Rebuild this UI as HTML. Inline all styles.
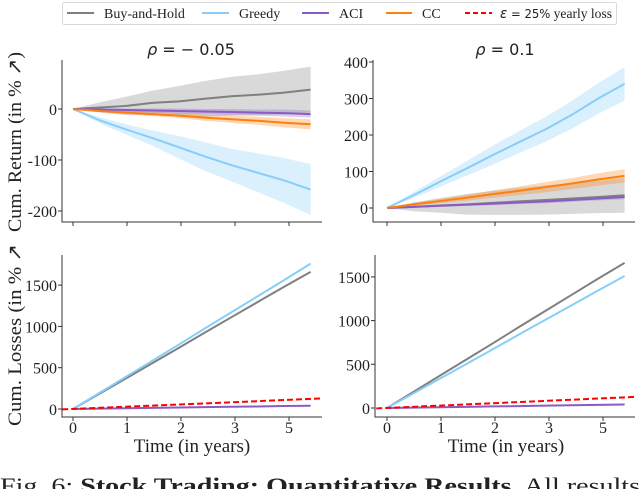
<!DOCTYPE html>
<html><head><meta charset="utf-8"><style>
body{margin:0;background:#fff;width:640px;height:489px;overflow:hidden}
svg{display:block}
text{font-family:"Liberation Serif",serif;fill:#222}
.s{font-family:"DejaVu Sans",sans-serif}
</style></head><body>
<svg id="c" width="640" height="489" xmlns="http://www.w3.org/2000/svg">
<g>
<rect x="62.5" y="2.5" width="554" height="22" rx="2" fill="#fff" stroke="#d8d8d8"/>
<g><line x1="67" y1="13" x2="94" y2="13" stroke="#808080" stroke-width="2"/><text x="104" y="18" font-size="14">Buy-and-Hold</text></g>
<g><line x1="202" y1="13" x2="229" y2="13" stroke="#87cefa" stroke-width="2"/><text x="239" y="18" font-size="14">Greedy</text></g>
<g><line x1="302" y1="13" x2="329" y2="13" stroke="#8a5cc2" stroke-width="2"/><text x="339" y="18" font-size="14">ACI</text></g>
<g><line x1="386" y1="13" x2="412" y2="13" stroke="#ff7f0e" stroke-width="2"/><text x="422" y="18" font-size="14">CC</text></g>
<g><line x1="465" y1="13" x2="492" y2="13" stroke="#ff0000" stroke-width="2" stroke-dasharray="5,3"/><text x="500" y="18" font-size="14" textLength="112" lengthAdjust="spacingAndGlyphs"><tspan class="s" font-style="italic">ε</tspan><tspan class="s" font-size="12"> = 25%</tspan> yearly loss</text></g>
</g>
<text class="s" x="191" y="55" font-size="16" text-anchor="middle"><tspan font-style="italic">ρ</tspan> = − 0.05</text>
<text class="s" x="505" y="55" font-size="16" text-anchor="middle"><tspan font-style="italic">ρ</tspan> = 0.1</text>
<text x="21" y="142" font-size="19" text-anchor="middle" textLength="180" lengthAdjust="spacingAndGlyphs" transform="rotate(-90 21 142)">Cum. Return (in %  ↗)</text>
<text x="21" y="335" font-size="19" text-anchor="middle" textLength="182" lengthAdjust="spacingAndGlyphs" transform="rotate(-90 21 335)">Cum. Losses (in %  ↗</text>
<text x="192" y="452" font-size="19" text-anchor="middle">Time (in years)</text>
<text x="506" y="452" font-size="19" text-anchor="middle">Time (in years)</text>
<text x="0" y="493" font-size="22" textLength="640" lengthAdjust="spacingAndGlyphs">Fig. 6: <tspan font-weight="bold">Stock Trading: Quantitative Results</tspan>. All results</text>
<g id="plots"></g>
</svg>
<script>
const times=[0,0.49,0.98,1.47,1.96,2.44,2.93,3.42,3.91,4.4];
// top-left (rho=-0.05) cumulative return
const tlBH=[0,3,6,12,15,20,25,28,32,38];
const tlBHband=[0,10,18,24,30,35,38,40,43,45];
const tlGreedy=[0,-22,-40,-57,-75,-93,-110,-125,-140,-158];
const tlGreedyBand=[0,6,10,15,22,28,32,38,44,50];
const tlACI=[0,-1,-2,-3,-4,-5,-6,-7,-8,-10];
const tlACIband=[0,2,3,4,5,5,6,6,7,7];
const tlCC=[0,-4,-7,-10,-13,-17,-20,-23,-27,-30];
const tlCCband=[0,2,3,4,5,6,7,8,9,10];
// top-right (rho=0.1)
const trBH=[0,3,7,10,14,18,22,26,30,35];
const trBHband=[0,12,20,28,33,37,40,42,44,48];
const trGreedy=[0,35,72,108,145,180,215,255,300,340];
const trGreedyBand=[0,8,14,20,26,30,34,38,42,46];
const trACI=[0,3,6,9,12,15,18,22,26,30];
const trACIband=[0,2,3,3,4,4,5,5,5,6];
const trCC=[0,10,19,28,38,47,57,67,78,88];
const trCCband=[0,4,6,8,10,12,14,15,17,18];
// bottom: cumulative losses
const blGreedy=[0,195,390,585,780,975,1170,1365,1560,1760];
const blBH=[0,185,370,555,740,925,1110,1295,1480,1660];
const blACI=[0,5,9,13,18,22,27,31,36,40];
const brBH=[0,185,370,555,740,925,1110,1295,1480,1660];
const brGreedy=[0,168,336,504,672,840,1008,1176,1344,1510];
const brACI=[0,5,9,13,18,22,27,31,36,40];
const epsTimes=[-0.2,4.62];
const epsVals=[-5,128];
const tlTicks=[0,-100,-200], tlTickLabels=["0","-100","-200"];
const trTicks=[0,100,200,300,400], trTickLabels=["0","100","200","300","400"];
const blTicks=[0,500,1000,1500], blTickLabels=["0","500","1000","1500"];
const brTicks=[0,500,1000,1500], brTickLabels=["0","500","1000","1500"];
const xTicks=[0,1,2,3,4], xTickLabels=["0","1","2","3","5"];

const NS="http://www.w3.org/2000/svg";
const root=document.getElementById('plots');
function mk(tag,attrs,parent){const e=document.createElementNS(NS,tag);for(const k in attrs)e.setAttribute(k,attrs[k]);(parent||root).appendChild(e);return e;}
const C={bh:"#808080",gr:"#87cefa",aci:"#8a5cc2",cc:"#ff7f0e"};
function panel(name,px0,right,pyTop,pyBot,x0px,xs,y0px,ys,ticks,labels,showX){
  const g=mk('g',{});
  
  
  const X=t=>x0px+t*xs, Y=v=>y0px-v*ys;
  const ax=mk('path',{d:`M${px0},${pyTop}V${pyBot}H${right}`,stroke:'#333',fill:'none','stroke-width':1},g);
  
  
  ticks.forEach((t,i)=>{
    mk('line',{x1:px0-4,x2:px0,y1:Y(t),y2:Y(t),stroke:'#333'},g);
    const tx=mk('text',{x:px0-5,y:Y(t)+6,'font-size':16,'text-anchor':'end'},g);
    tx.textContent=labels[i];
    
    
  });
  xTicks.forEach((t,i)=>{
    mk('line',{x1:X(t),x2:X(t),y1:pyBot,y2:pyBot+4,stroke:'#333'},g);
    if(showX){const tx=mk('text',{x:X(t),y:pyBot+16,'font-size':16,'text-anchor':'middle'},g);tx.textContent=xTickLabels[i];
      
      }
  });
  return {g,X,Y};
}
function band(p,vals,bw,col,name){
  let d='';vals.forEach((v,i)=>{d+=(i?'L':'M')+p.X(times[i])+','+p.Y(v+bw[i]);});
  for(let i=vals.length-1;i>=0;i--)d+='L'+p.X(times[i])+','+p.Y(vals[i]-bw[i]);
  const e=mk('path',{d:d+'Z',fill:col,'fill-opacity':0.3,stroke:'none'},p.g);
  
  
}
function line(p,ts,vals,col,name,dash){
  const e=mk('polyline',{points:vals.map((v,i)=>p.X(ts[i])+','+p.Y(v)).join(' '),fill:'none',stroke:col,'stroke-width':2,'stroke-dasharray':dash||'none'},p.g);
  
  
}
// top-left
let p=panel('panel-return-rho-neg',62,322,60,222,73,54,109,0.51,tlTicks,tlTickLabels,false);
band(p,tlBH,tlBHband,C.bh,'band-buy-and-hold');band(p,tlGreedy,tlGreedyBand,C.gr,'band-greedy');
band(p,tlCC,tlCCband,C.cc,'band-cc');band(p,tlACI,tlACIband,C.aci,'band-aci');
line(p,times,tlBH,C.bh,'line-buy-and-hold');line(p,times,tlGreedy,C.gr,'line-greedy');
line(p,times,tlACI,C.aci,'line-aci');line(p,times,tlCC,C.cc,'line-cc');
// top-right
p=panel('panel-return-rho-pos',373,635,60,222,387,54,208,0.365,trTicks,trTickLabels,false);
band(p,trBH,trBHband,C.bh,'band-buy-and-hold');band(p,trGreedy,trGreedyBand,C.gr,'band-greedy');
band(p,trCC,trCCband,C.cc,'band-cc');band(p,trACI,trACIband,C.aci,'band-aci');
line(p,times,trGreedy,C.gr,'line-greedy');line(p,times,trBH,C.bh,'line-buy-and-hold');
line(p,times,trACI,C.aci,'line-aci');line(p,times,trCC,C.cc,'line-cc');
// bottom-left
p=panel('panel-losses-rho-neg',62,322,255,417,73,54,409,0.0826,blTicks,blTickLabels,true);
line(p,times,blBH,C.bh,'line-buy-and-hold');line(p,times,blGreedy,C.gr,'line-greedy');
line(p,times,blACI,C.aci,'line-aci');line(p,epsTimes,epsVals,'#ff0000','line-epsilon','6,3');
// bottom-right
p=panel('panel-losses-rho-pos',375,635,255,417,387,54,408,0.0874,brTicks,brTickLabels,true);
line(p,times,brBH,C.bh,'line-buy-and-hold');line(p,times,brGreedy,C.gr,'line-greedy');
line(p,times,brACI,C.aci,'line-aci');line(p,epsTimes,epsVals,'#ff0000','line-epsilon','6,3');
</script>
</body></html>
